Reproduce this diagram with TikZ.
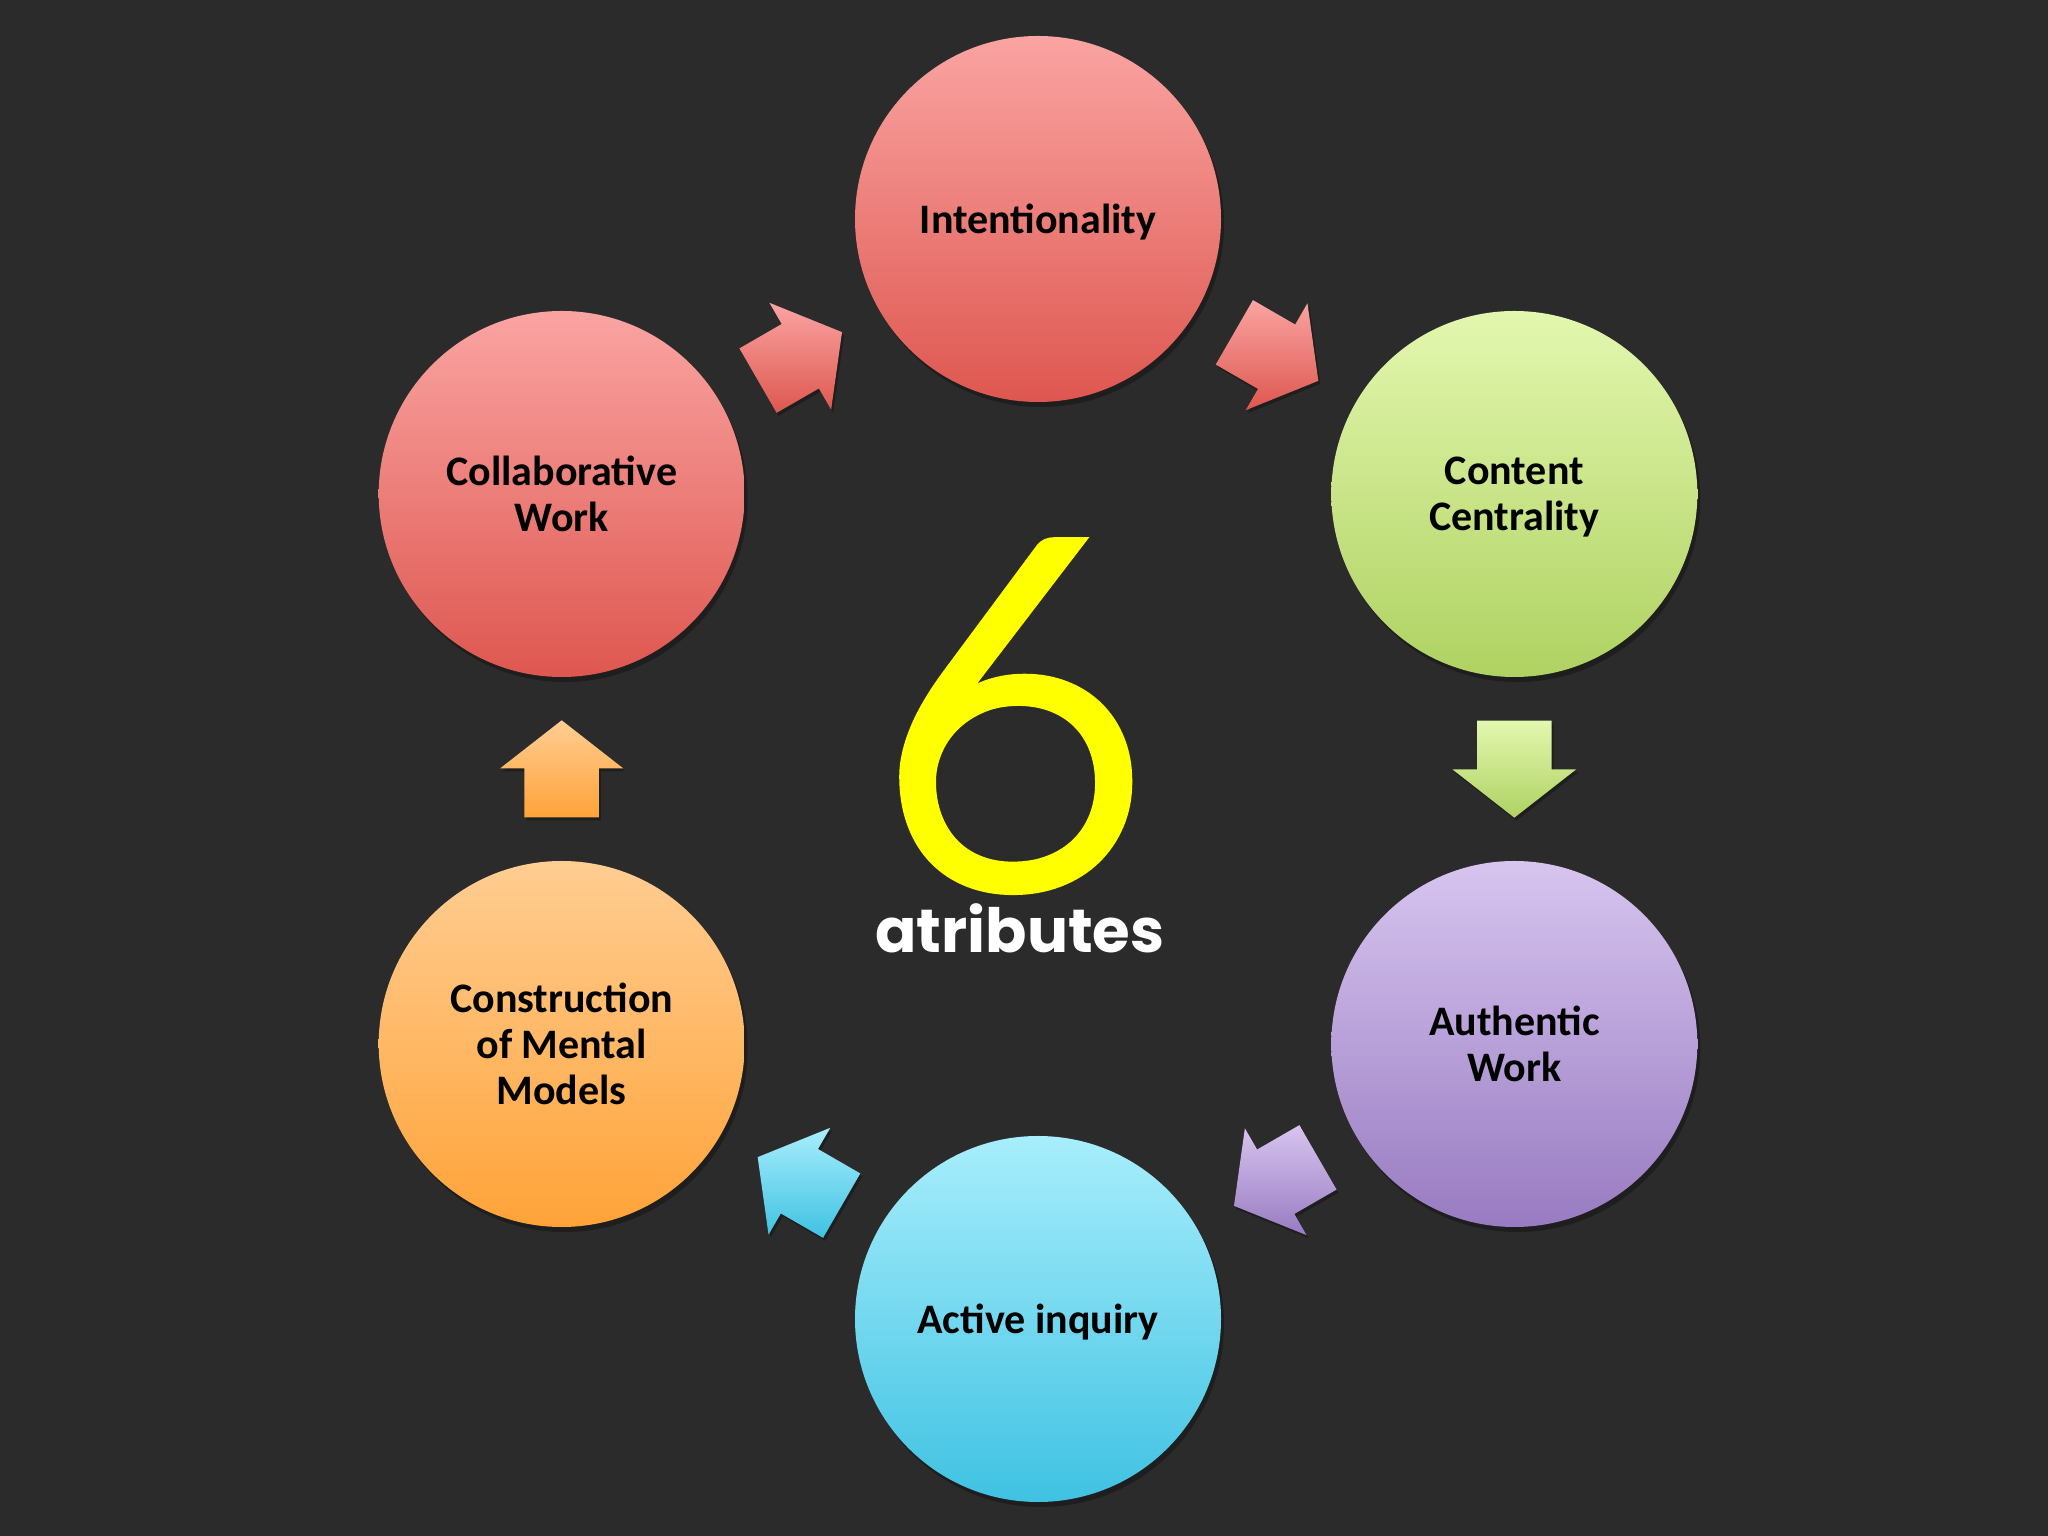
\documentclass[tikz,border=0pt]{standalone}
\usepackage{fontspec}
\setmainfont{Carlito}
\newfontfamily\geofont{Poppins}
\IfFontExistsTF{Lato Light}{\newfontfamily\sixfont[FakeBold=3]{Lato Light}}{\newfontfamily\sixfont{Lato}}
\usetikzlibrary{shapes.arrows,shadows,calc}

\definecolor{bgdark}{HTML}{2B2B2B}
\definecolor{redtop}{HTML}{FAA4A2}
\definecolor{redbot}{HTML}{DE5750}
\definecolor{greentop}{HTML}{E3F7AF}
\definecolor{greenbot}{HTML}{AFD262}
\definecolor{purpletop}{HTML}{D7C5EF}
\definecolor{purplebot}{HTML}{987BC1}
\definecolor{bluetop}{HTML}{A8EEFC}
\definecolor{bluebot}{HTML}{3FC2E2}
\definecolor{orangetop}{HTML}{FFCD92}
\definecolor{orangebot}{HTML}{FFA339}
\definecolor{sixyellow}{HTML}{FFFF00}

\begin{document}
\begin{tikzpicture}[x=1pt, y=1pt,
  topic/.style={circle, minimum size=366pt, inner sep=0pt, align=center,
    font=\fontsize{42}{46}\selectfont\bfseries, text=black, text depth=0pt,
    drop shadow={shadow xshift=3pt, shadow yshift=-5pt, opacity=0.3, fill=black}},
  blockarrow/.style={single arrow, inner xsep=0pt, inner ysep=37pt,
    minimum height=97pt, single arrow head extend=24.5pt,
    single arrow tip angle=104, anchor=tail,
    drop shadow={shadow xshift=2pt, shadow yshift=-3pt, opacity=0.3, fill=black}}]

\fill[bgdark] (0,0) rectangle (2048,1536);
\useasboundingbox (0,0) rectangle (2048,1536);

\coordinate (mid) at (1038,767);

% the six circles, clockwise from the top
\node[topic, top color=redtop, bottom color=redbot] (intent) at ($(mid)+(90:550)$) {Intentionality};
\node[topic, top color=greentop, bottom color=greenbot] (content) at ($(mid)+(30:550)$) {Content\\Centrality};
\node[topic, top color=purpletop, bottom color=purplebot] (authentic) at ($(mid)+(-30:550)$) {Authentic\\Work};
\node[topic, top color=bluetop, bottom color=bluebot] (active) at ($(mid)+(-90:550)$) {Active inquiry};
\node[topic, top color=orangetop, bottom color=orangebot] (construct) at ($(mid)+(-150:550)$) {Construction\\of Mental\\Models};
\node[topic, top color=redtop, bottom color=redbot] (collab) at ($(mid)+(150:550)$) {Collaborative\\Work};

% block arrows between the circles (tail set back half a length)
\node[blockarrow, rotate=-30, top color=redtop, bottom color=redbot] (a1) at ($(intent)!0.5!(content)+(150:48.5)$) {};
\node[blockarrow, rotate=-90, top color=greentop, bottom color=greenbot] (a2) at ($(content)!0.5!(authentic)+(90:48.5)$) {};
\node[blockarrow, rotate=-150, top color=purpletop, bottom color=purplebot] (a3) at ($(authentic)!0.5!(active)+(30:48.5)$) {};
\node[blockarrow, rotate=150, top color=bluetop, bottom color=bluebot] (a4) at ($(active)!0.5!(construct)+(-30:48.5)$) {};
\node[blockarrow, rotate=90, top color=orangetop, bottom color=orangebot] (a5) at ($(construct)!0.5!(collab)+(-90:48.5)$) {};
\node[blockarrow, rotate=30, top color=redtop, bottom color=redbot] (a6) at ($(collab)!0.5!(intent)+(-150:48.5)$) {};

% centre title
\node[font=\sixfont\fontsize{480}{480}\selectfont, text=sixyellow, inner sep=0pt, anchor=base] (six) at (1013,652) {6};
\node[font=\geofont\bfseries\fontsize{61}{61}\selectfont, text=white, inner sep=0pt, anchor=base] (attr) at (1020,583) {atributes};
\end{tikzpicture}
\end{document}
